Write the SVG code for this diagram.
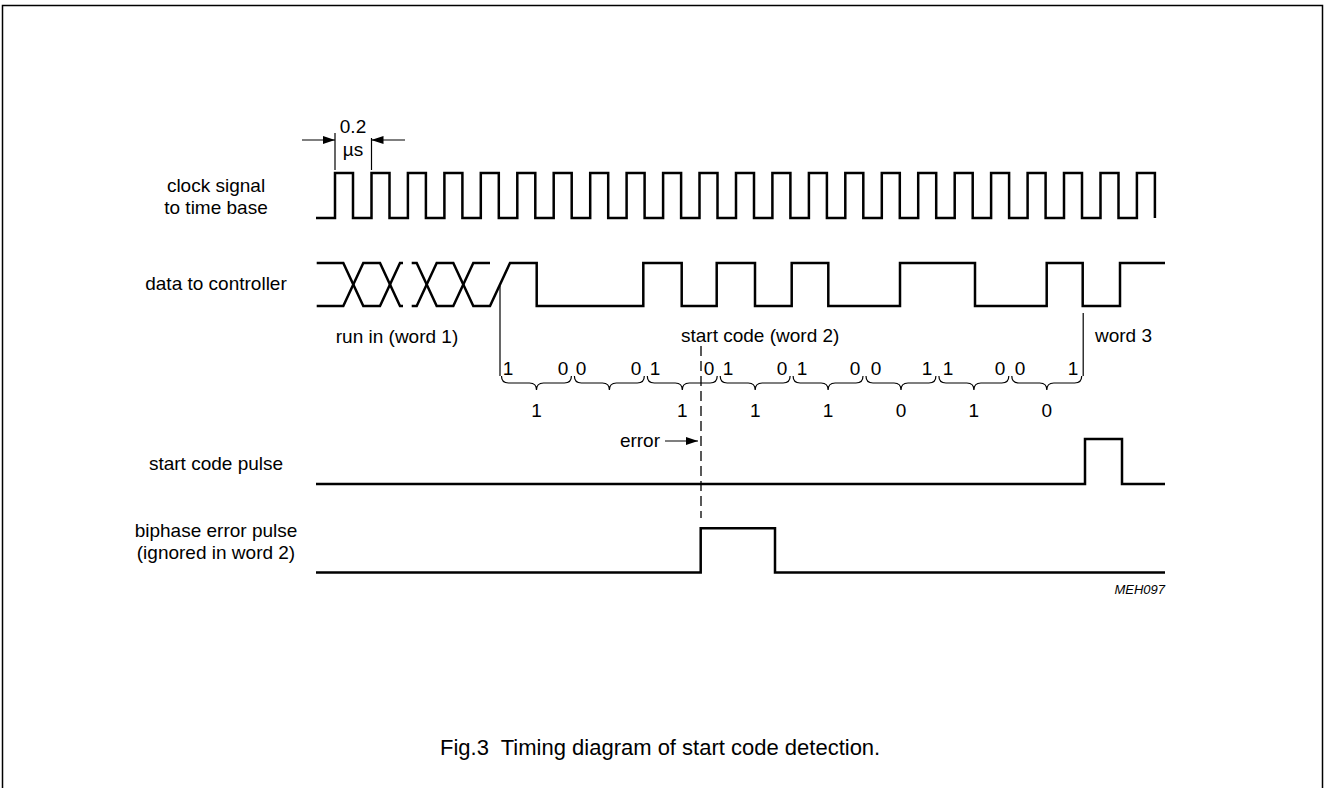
<svg xmlns="http://www.w3.org/2000/svg" width="1327" height="788" viewBox="0 0 1327 788">
<style>
text{font-family:"Liberation Sans",Arial,sans-serif;font-size:19px;fill:#000}
.sig{fill:none;stroke:#000;stroke-width:2.5;stroke-linejoin:miter}
.thin{fill:none;stroke:#000;stroke-width:1.2}
.mid{text-anchor:middle}
</style>
<defs>
<marker id="ah" viewBox="0 0 12 8" refX="12" refY="4" markerWidth="12" markerHeight="8" markerUnits="userSpaceOnUse" orient="auto">
<path d="M0,0 L12,4 L0,8 Z" fill="#000"/>
</marker>
</defs>
<rect x="2.5" y="5.5" width="1320" height="800" fill="#fff" stroke="#000" stroke-width="1.5"/>

<g id="labels">
<text class="mid" x="216" y="192">clock signal</text>
<text class="mid" x="216" y="214">to time base</text>
<text class="mid" x="216" y="290">data to controller</text>
<text class="mid" x="216" y="470">start code pulse</text>
<text class="mid" x="216" y="537">biphase error pulse</text>
<text class="mid" x="216" y="559">(ignored in word 2)</text>
</g>

<g id="period-marker">
<line class="thin" x1="335" y1="133" x2="335" y2="170"/>
<line class="thin" x1="371.5" y1="138" x2="371.5" y2="170"/>
<line class="thin" x1="302" y1="140" x2="335" y2="140" marker-end="url(#ah)"/>
<line class="thin" x1="405" y1="140" x2="371.5" y2="140" marker-end="url(#ah)"/>
<text class="mid" x="353" y="133">0.2</text>
<text class="mid" x="353" y="156">µs</text>
</g>

<g id="clock">
<path class="sig" d="M316,218 H335 V173 H353 V218 H371.5 V173 H389.5 V218 H407.9 V173 H425.9 V218 H444.4 V173 H462.4 V218 H480.8 V173 H498.8 V218 H517.3 V173 H535.3 V218 H553.7 V173 H571.7 V218 H590.2 V173 H608.2 V218 H626.6 V173 H644.6 V218 H663.1 V173 H681.1 V218 H699.5 V173 H717.5 V218 H736 V173 H754 V218 H772.4 V173 H790.4 V218 H808.9 V173 H826.9 V218 H845.3 V173 H863.3 V218 H881.8 V173 H899.8 V218 H918.2 V173 H936.2 V218 H954.7 V173 H972.7 V218 H991.1 V173 H1009.1 V218 H1027.6 V173 H1045.6 V218 H1064 V173 H1082 V218 H1100.5 V173 H1118.5 V218 H1136.9 V173 H1154.9 V218"/>
</g>

<g id="data">
<path class="sig" d="M316.7,263 H343.3 L363.3,306 H380 L400,263 H403"/>
<path class="sig" d="M316.7,306 H343.3 L363.3,263 H380 L400,306 H403"/>
<path class="sig" d="M411.7,263 H416.7 L436.7,306 H453.3 L473.3,263 H490"/>
<path class="sig" d="M411.7,306 H416.7 L436.7,263 H453.3 L473.3,306 H490 L510,263 H536.7 V306 H643.3 V263 H681.7 V306 H716.7 V263 H755 V306 H791.7 V263 H828.3 V306 H900 V263 H975 V306 H1046.7 V263 H1082.7 V306 H1120 V263 H1165"/>
<text class="mid" x="397" y="343">run in (word 1)</text>
<text x="681" y="342">start code (word 2)</text>
<text x="1095" y="342">word 3</text>
</g>

<g id="bits">
<line class="thin" x1="500" y1="286" x2="500" y2="376"/>
<line class="thin" x1="1083.2" y1="313" x2="1083.2" y2="376"/>
<path class="thin" d="M501.5,376 Q501.5,383 508.5,383 H529.5 Q536.5,383 536.5,390 Q536.5,383 543.5,383 H564.4 Q571.4,383 571.4,376"/>
<path class="thin" d="M574.4,376 Q574.4,383 581.4,383 H602.4 Q609.4,383 609.4,390 Q609.4,383 616.4,383 H637.3 Q644.3,383 644.3,376"/>
<path class="thin" d="M647.3,376 Q647.3,383 654.3,383 H675.3 Q682.3,383 682.3,390 Q682.3,383 689.3,383 H710.2 Q717.2,383 717.2,376"/>
<path class="thin" d="M720.2,376 Q720.2,383 727.2,383 H748.2 Q755.2,383 755.2,390 Q755.2,383 762.2,383 H783.1 Q790.1,383 790.1,376"/>
<path class="thin" d="M793.1,376 Q793.1,383 800.1,383 H821.1 Q828.1,383 828.1,390 Q828.1,383 835.1,383 H856 Q863,383 863,376"/>
<path class="thin" d="M866,376 Q866,383 873,383 H894 Q901,383 901,390 Q901,383 908,383 H928.9 Q935.9,383 935.9,376"/>
<path class="thin" d="M938.9,376 Q938.9,383 945.9,383 H966.9 Q973.9,383 973.9,390 Q973.9,383 980.9,383 H1001.8 Q1008.8,383 1008.8,376"/>
<path class="thin" d="M1011.8,376 Q1011.8,383 1018.8,383 H1039.8 Q1046.8,383 1046.8,390 Q1046.8,383 1053.8,383 H1074.7 Q1081.7,383 1081.7,376"/>
<g class="mid">
<text class="mid" x="508" y="375">1</text><text class="mid" x="563" y="375">0</text>
<text class="mid" x="581" y="375">0</text><text class="mid" x="636" y="375">0</text>
<text class="mid" x="655" y="375">1</text><text class="mid" x="709" y="375">0</text>
<text class="mid" x="728" y="375">1</text><text class="mid" x="782" y="375">0</text>
<text class="mid" x="802" y="375">1</text><text class="mid" x="855" y="375">0</text>
<text class="mid" x="876" y="375">0</text><text class="mid" x="927" y="375">1</text>
<text class="mid" x="948" y="375">1</text><text class="mid" x="1000" y="375">0</text>
<text class="mid" x="1020" y="375">0</text><text class="mid" x="1073" y="375">1</text>
<text class="mid" x="536.5" y="417">1</text>
<text class="mid" x="682.3" y="417">1</text>
<text class="mid" x="755.2" y="417">1</text>
<text class="mid" x="828.1" y="417">1</text>
<text class="mid" x="901" y="417">0</text>
<text class="mid" x="973.9" y="417">1</text>
<text class="mid" x="1046.8" y="417">0</text>
</g>
</g>

<g id="error-marker">
<line x1="701" y1="346" x2="701" y2="518" stroke="#000" stroke-width="1.3" stroke-dasharray="10,5"/>
<text x="660" y="447" text-anchor="end">error</text>
<line class="thin" x1="665" y1="441" x2="698" y2="441" marker-end="url(#ah)"/>
</g>

<g id="start-code-pulse">
<path class="sig" d="M316,484 H1085 V439 H1122 V484 H1165"/>
</g>

<g id="biphase-error-pulse">
<path class="sig" d="M316,572.5 H700.7 V528.3 H775 V572.5 H1165"/>
</g>

<text x="1165" y="594" text-anchor="end" style="font-size:13px;font-style:italic">MEH097</text>
<text x="440" y="755" style="font-size:22px" xml:space="preserve">Fig.3  Timing diagram of start code detection.</text>
</svg>
